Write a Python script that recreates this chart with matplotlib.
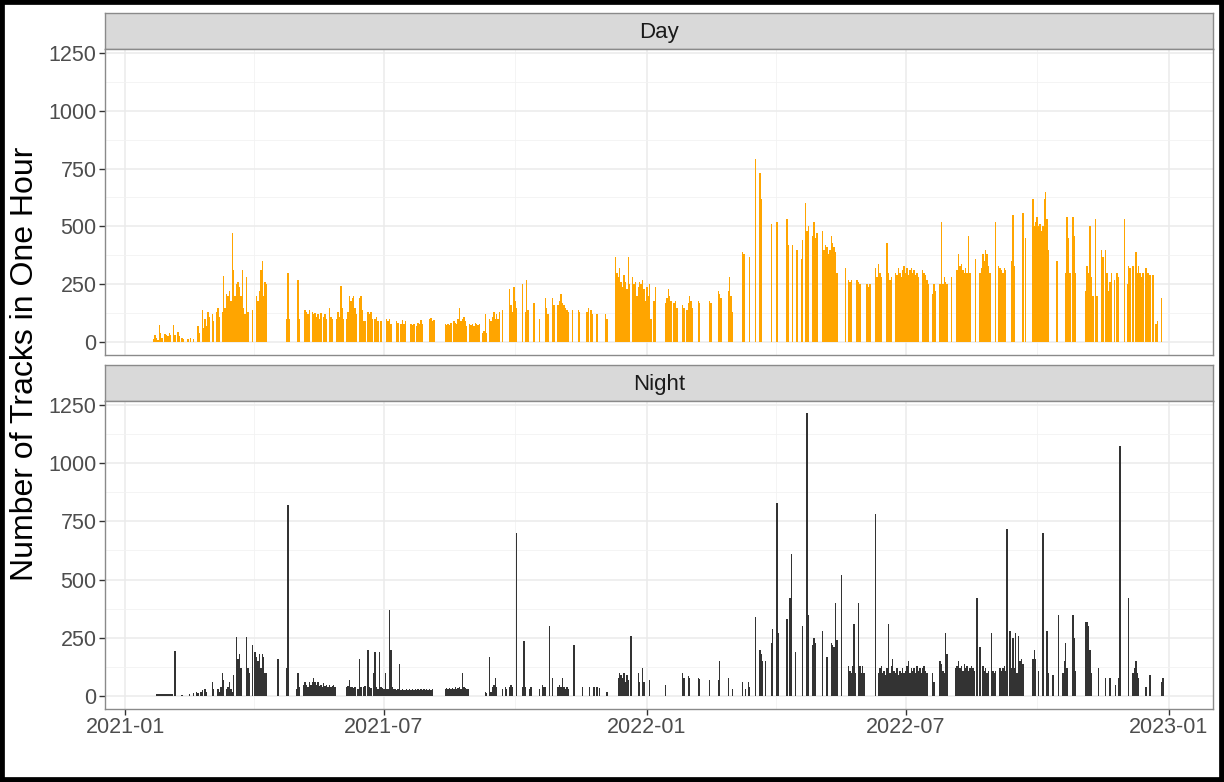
import numpy as np
import matplotlib.pyplot as plt
import matplotlib.dates as mdates
from matplotlib.patches import Rectangle
from matplotlib.ticker import MultipleLocator

plt.rcParams['font.family'] = ['Liberation Sans', 'DejaVu Sans']

# Tracks per hour, one value per calendar day (0 = no recording that day)
day_2021 = [
    [0] * 20 + [15, 30, 20, 10, 75, 40, 20, 0, 35, 30, 25],
    [40, 30, 0, 75, 30, 0, 45, 25, 0, 20, 15, 0, 0, 15, 0, 20, 0, 15, 0, 0, 70, 40, 0, 140, 60, 100, 70, 130],
    [110, 0, 120, 90, 0, 130, 150, 110, 0, 130, 285, 150, 210, 200, 220, 180, 470, 310, 200, 250, 260, 240, 200, 310, 150, 120, 280, 130, 0, 0, 140],
    [0, 0, 200, 180, 220, 310, 350, 200, 260, 250] + [0] * 13 + [100, 300, 100, 0, 0, 0, 0],
    [0, 270, 100, 0, 0, 0, 140, 130, 120, 140, 0, 130, 120, 125, 110, 120, 100, 125, 0, 110, 120, 100, 0, 150, 110, 100, 0, 0, 100, 130, 110],
    [245, 150, 100, 0, 100, 130, 200, 180, 190, 200, 150, 120, 0, 190, 200, 140, 90, 90, 0, 130, 120, 130, 100, 0, 100, 110, 90, 0, 90, 0],
    [0, 0, 100, 90, 100, 80, 0, 0, 0, 90, 85, 0, 80, 95, 80, 90, 0, 0, 0, 80, 75, 80, 0, 70, 85, 80, 95, 80, 0, 0, 0],
    [0, 100, 105, 90, 95, 0] + [0] * 6 + [80, 75, 80, 75, 85, 0, 90, 85, 80, 100, 150, 90, 100, 110, 90, 70, 0, 80, 75],
    [80, 70, 85, 80, 75, 80, 0, 40, 50, 120, 40, 0, 100, 90, 110, 130, 100, 120, 100, 130, 0, 140, 0, 0, 0, 0, 230, 160, 130, 240],
    [180, 150, 0, 0, 0, 250, 0, 130, 270, 140, 0, 0, 0, 170, 0, 0, 0, 100, 0, 0, 0, 190, 150, 120, 0, 0, 190, 160, 0, 0, 160],
    [180, 210, 170, 160, 150, 140, 130, 0, 0, 140, 0, 0, 0, 140, 130, 0, 0, 0, 0, 130, 150, 0, 140, 120, 0, 0, 120, 0, 0, 0],
    [0, 0, 120, 100, 0, 0, 0, 0, 0, 370, 300, 280, 320, 260, 240, 290, 260, 230, 370, 250, 0, 280, 250, 260, 200, 240, 260, 250, 270, 230, 180],
]
day_2022 = [
    [240, 200, 250, 100, 0, 180, 240, 0, 0, 0, 0, 0, 0, 170, 190, 230, 200, 180, 0, 170, 180, 150, 0, 0, 0, 160, 150, 0, 140, 170, 200],
    [180, 150, 0, 0, 0, 180, 170, 0, 0, 0, 0, 0, 0, 180, 170, 0, 0, 0, 0, 220, 210, 190, 0, 0, 0, 0, 220, 280],
    [200, 130, 0, 0, 0, 0, 0, 0, 390, 380, 0, 0, 0, 370, 0, 0, 0, 790, 0, 0, 730, 620, 0, 0, 0, 0, 0, 0, 510, 0, 0],
    [0, 520, 0, 0, 0, 0, 0, 0, 530, 420, 0, 0, 420, 0, 0, 400, 0, 0, 360, 440, 0, 600, 480, 500, 0, 0, 460, 520, 450, 470],
    [0, 0, 0, 480, 400, 420, 410, 380, 400, 460, 430, 410, 390, 300, 0, 0, 0, 0, 0, 320, 0, 270, 260, 270, 0, 0, 0, 270, 260, 250, 0],
    [0, 0, 0, 250, 240, 250, 0, 0, 0, 320, 280, 340, 300, 280, 0, 0, 0, 430, 300, 270, 280, 0, 0, 300, 290, 320, 300, 280, 310, 330],
    [300, 320, 290, 310, 320, 300, 310, 290, 300, 280, 0, 0, 310, 300, 290, 270, 250, 0, 0, 210, 250, 220, 0, 0, 250, 520, 250, 280, 260, 250, 0],
    [0, 280, 0, 0, 0, 310, 380, 330, 340, 310, 300, 320, 300, 460, 300, 0, 0, 0, 360, 0, 0, 300, 320, 380, 350, 400, 380, 330, 300, 0, 0],
    [0, 520, 0, 330, 320, 310, 300, 320, 310, 0, 0, 0, 350, 550, 330, 0, 0, 0, 0, 0, 560, 0, 450, 0, 0, 0, 0, 620, 500, 520],
    [540, 500, 510, 480, 500, 620, 650, 530, 400, 0, 0, 0, 0, 0, 350, 0, 0, 0, 0, 0, 300, 540, 450, 300, 0, 540, 460, 300, 0, 0, 0],
    [0, 0, 0, 220, 330, 300, 500, 280, 200, 0, 530, 200, 0, 0, 400, 370, 0, 400, 300, 220, 260, 300, 0, 270, 0, 300, 280, 0, 0, 0],
    [530, 0, 250, 330, 320, 0, 330, 0, 390, 300, 330, 300, 280, 300, 0, 320, 300, 300, 290, 0, 290, 0, 80, 90, 0, 0, 190, 0, 0, 0, 0],
]
night_2021 = [
    [0] * 22 + [10, 10, 10, 8, 10, 10, 10, 10, 10],
    [10, 10, 10, 0, 195, 0, 0, 0, 0, 5, 0, 0, 0, 0, 10, 0, 0, 15, 0, 20, 15, 0, 20, 25, 0, 30, 20, 0],
    [0, 0, 60, 30, 0, 0, 30, 20, 40, 100, 70, 0, 30, 40, 60, 30, 20, 90, 0, 255, 160, 180, 120, 0, 0, 0, 255, 120, 100, 0, 220],
    [0, 190, 170, 150, 180, 120, 180, 170, 100, 100] + [0] * 7 + [160, 0] + [0] * 4 + [120, 820, 0, 0, 0, 0, 0],
    [30, 100, 40, 0, 0, 50, 60, 50, 40, 60, 50, 60, 80, 60, 50, 60, 45, 50, 40, 55, 45, 50, 40, 50, 40, 45, 50, 40, 0, 0, 0],
    [0, 0, 0, 0, 40, 45, 70, 40, 40, 35, 40, 0, 30, 160, 40, 0, 40, 45, 0, 200, 40, 35, 0, 100, 190, 40, 30, 190, 40, 35],
    [30, 100, 30, 30, 370, 200, 40, 30, 30, 25, 30, 140, 25, 30, 25, 25, 30, 25, 30, 25, 30, 25, 30, 25, 30, 25, 30, 25, 30, 25, 30],
    [25, 30, 25, 30, 0, 0, 0, 0, 0, 0, 0, 0, 30, 35, 30, 35, 30, 35, 30, 40, 30, 35, 40, 30, 100, 40, 35, 30, 30, 0, 0],
    [0, 0, 0, 0, 0, 0, 0, 0, 0, 20, 15, 0, 170, 20, 40, 50, 80, 40, 0, 0, 0, 30, 0, 40, 30, 0, 40, 50, 40, 0],
    [0, 700, 0, 0, 0, 40, 235, 40, 0, 0, 30, 40, 0, 0, 0, 0, 0, 30, 0, 50, 40, 40, 0, 0, 300, 0, 80, 0, 0, 0, 40],
    [50, 40, 80, 40, 30, 40, 30, 0, 0, 0, 220, 0, 0, 0, 0, 0, 40, 0, 0, 0, 0, 40, 0, 0, 40, 0, 40, 0, 35, 0],
    [0, 0, 0, 20, 0] + [0] * 6 + [80, 100, 90, 80, 100, 60, 90, 70, 0, 260, 0, 0, 0, 0, 100, 60, 0, 120, 60, 0],
]
night_2022 = [
    [0, 0, 70, 0] + [0] * 9 + [50] + [0] * 11 + [100, 80, 0, 0, 85, 80],
    [0, 0, 0, 0, 0, 80, 75, 0, 0, 0, 0, 0, 0, 70, 0, 0, 0, 0, 0, 70, 150, 0, 0, 0, 0, 0, 80, 0],
    [0, 30, 0, 0, 0, 0, 0, 0, 60, 0, 30, 0, 60, 40, 0, 0, 0, 340, 0, 0, 200, 180, 150, 0, 150, 0, 0, 0, 230, 290, 0],
    [0, 830, 270, 0, 0, 0, 0, 0, 330, 0, 420, 610, 0, 0, 190, 0, 0, 0, 0, 300, 0, 0, 1215, 350, 0, 0, 220, 250, 230, 0],
    [0, 0, 0, 280, 0, 0, 170, 0, 0, 230, 220, 210, 400, 240, 0, 0, 520, 0, 0, 0, 0, 130, 110, 100, 130, 310, 100, 0, 400, 130, 100],
    [130, 100, 0, 0, 0, 0, 0, 0, 0, 780, 0, 100, 120, 130, 100, 110, 90, 120, 310, 100, 130, 160, 110, 100, 120, 90, 110, 100, 120, 100],
    [110, 130, 150, 100, 120, 110, 120, 100, 130, 110, 120, 100, 120, 130, 110, 100, 0, 0, 0, 100, 60, 0, 0, 0, 150, 140, 110, 100, 270, 180, 0],
    [0, 0, 0, 0, 120, 130, 150, 120, 130, 110, 140, 120, 130, 110, 120, 130, 120, 110, 0, 420, 0, 210, 0, 130, 110, 120, 100, 110, 0, 270, 110],
    [100, 110, 0, 0, 120, 110, 120, 130, 110, 715, 0, 280, 120, 250, 120, 270, 100, 260, 150, 160, 140, 0, 0, 0, 0, 0, 0, 160, 200, 160],
    [0, 110, 0, 0, 700, 0, 0, 280, 100, 0, 0, 90, 0, 0, 0, 350, 0, 0, 100, 150, 230, 120, 0, 0, 0, 350, 250, 110, 0, 0, 0],
    [0, 0, 0, 320, 320, 300, 200, 100, 0, 0, 0, 0, 120, 0, 0, 0, 0, 80, 0, 0, 80, 0, 0, 0, 50, 0, 80, 1075, 0, 0],
    [0, 0, 0, 420, 0, 0, 100, 120, 150, 100, 80, 0, 0, 0, 0, 40, 0, 0, 90, 0, 0, 0, 0, 0, 0, 0, 60, 80, 0, 0, 0],
]

panels = ["Day", "Night"]
bar_colors = ["#FFA500", "#333333"]
x_major = ["2021-01-01", "2021-07-01", "2022-01-01", "2022-07-01", "2023-01-01"]
x_minor = ["2021-04-01", "2021-10-01", "2022-04-01", "2022-10-01"]
x_labels = ["2021-01", "2021-07", "2022-01", "2022-07", "2023-01"]


def flatten(*years):
    return np.array([v for year in years for month in year for v in month], dtype=float)


def to_num(days):
    return mdates.date2num([np.datetime64(d).astype(object) for d in days])


series = [flatten(day_2021, day_2022), flatten(night_2021, night_2022)]
dates = np.datetime64("2021-01-01") + np.arange(len(series[0]))
xnum = mdates.date2num(dates.astype("datetime64[D]").astype(object))

W, H = 1224, 782
fig = plt.figure(figsize=(W / 100, H / 100), dpi=100)

# panel boxes in pixels: (strip top, panel top, panel bottom)
boxes = [(13, 49, 355), (365, 401, 709)]
left, right = 105, 1213
xlim = to_num(["2020-12-18", "2023-02-01"])
border = "#8a8a8a"

for name, vals, color, (st, pt, pb) in zip(panels, series, bar_colors, boxes):
    # facet strip
    sax = fig.add_axes([left / W, 1 - pt / H, (right - left) / W, (pt - st) / H])
    sax.set_facecolor("#D9D9D9")
    sax.set_xticks([])
    sax.set_yticks([])
    for s in sax.spines.values():
        s.set_color(border)
        s.set_linewidth(1.0)
    sax.text(0.5, 0.45, name, ha="center", va="center", fontsize=16, color="#1A1A1A",
             transform=sax.transAxes)

    ax = fig.add_axes([left / W, 1 - pb / H, (right - left) / W, (pb - pt) / H])
    keep = vals > 0
    ax.bar(xnum[keep], vals[keep], width=1.0, color=color, linewidth=0, zorder=3)

    ax.set_xlim(xlim)
    ax.set_ylim(-55, 1266)
    ax.yaxis.set_major_locator(MultipleLocator(250))
    ax.yaxis.set_minor_locator(MultipleLocator(125))
    ax.set_xticks(to_num(x_major))
    ax.set_xticks(to_num(x_minor), minor=True)
    ax.grid(which="major", color="#EBEBEB", linewidth=1.1, zorder=0)
    ax.grid(which="minor", color="#F2F2F2", linewidth=0.6, zorder=0)
    ax.set_axisbelow(True)
    ax.tick_params(which="major", length=4, width=1.0, color="#333333",
                   labelsize=15.5, labelcolor="#4D4D4D", pad=2)
    ax.tick_params(which="minor", length=0)
    if name == "Day":
        ax.set_xticklabels([])
        ax.tick_params(axis="x", length=0)
    else:
        ax.set_xticklabels(x_labels)
    for s in ax.spines.values():
        s.set_color(border)
        s.set_linewidth(1.0)

fig.text(25 / W, 1 - 364 / H, "Number of Tracks in One Hour", rotation=90,
         ha="center", va="center", fontsize=23, color="black")

# outer frame
fig.patches.append(Rectangle((0, 0), 1, 1, transform=fig.transFigure, fill=False,
                             edgecolor="black", linewidth=7, zorder=10))

fig.savefig("out.png", dpi=100, facecolor="white")
